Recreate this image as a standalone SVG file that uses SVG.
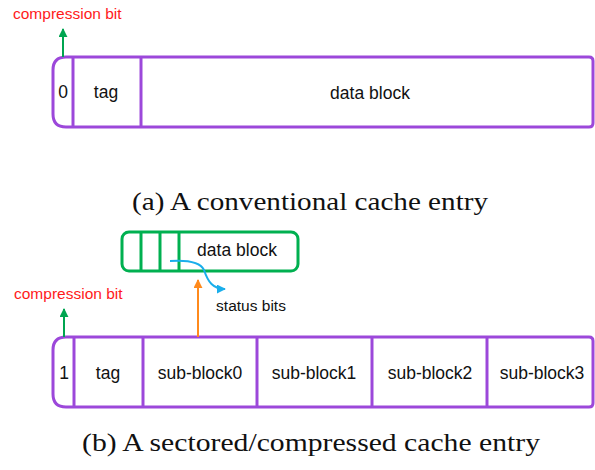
<svg xmlns="http://www.w3.org/2000/svg" width="595" height="470" viewBox="0 0 595 470">
<defs>
<marker id="ag" viewBox="0 0 10 10" refX="9" refY="5" markerWidth="4.5" markerHeight="4.5" orient="auto"><path d="M0,0 L10,5 L0,10 z" fill="#00A550"/></marker>
<marker id="ao" viewBox="0 0 10 10" refX="9" refY="5" markerWidth="4.5" markerHeight="4.5" orient="auto"><path d="M0,0 L10,5 L0,10 z" fill="#FF8A1C"/></marker>
<marker id="ab" viewBox="0 0 10 10" refX="9" refY="5" markerWidth="4.5" markerHeight="4.5" orient="auto"><path d="M0,0 L10,5 L0,10 z" fill="#1AAEEB"/></marker>
</defs>
<style>
.box{fill:none;stroke:#9C48DA;stroke-width:3}
.gbox{fill:none;stroke:#00B050;stroke-width:3}
.t{font-family:"Liberation Sans",Arial,sans-serif;font-size:17.5px;fill:#111;text-anchor:middle}
.red{font-family:"Liberation Sans",Arial,sans-serif;font-size:15.5px;fill:#FF1A1A}
.cap{font-family:"Liberation Serif","Times New Roman",serif;font-size:26px;fill:#111;text-anchor:middle}
</style>
<rect width="595" height="470" fill="#fff"/>

<g id="entry-a">
<path class="box" d="M66,57 H589 Q593,57 593,61 V123 Q593,127 589,127 H66 Q53,127 53,114 V70 Q53,57 66,57 Z"/>
<line class="box" x1="73" y1="57" x2="73" y2="127"/>
<line class="box" x1="141" y1="57" x2="141" y2="127"/>
<text class="t" x="63" y="98">0</text>
<text class="t" x="106" y="98">tag</text>
<text class="t" x="370" y="99">data block</text>
</g>
<text class="red" x="13" y="19">compression bit</text>
<text class="cap" x="310" y="210" textLength="356" lengthAdjust="spacingAndGlyphs">(a) A conventional cache entry</text>

<g id="green-block">
<rect class="gbox" x="122" y="232" width="176" height="39" rx="7"/>
<line class="gbox" x1="141" y1="232" x2="141" y2="271"/>
<line class="gbox" x1="160" y1="232" x2="160" y2="271"/>
<line class="gbox" x1="179" y1="232" x2="179" y2="271"/>
<text class="t" x="237" y="256">data block</text>
</g>
<text class="t" x="251" y="311" style="font-size:15.5px">status bits</text>

<g id="entry-b">
<path class="box" d="M66,337 H589 Q593,337 593,341 V403 Q593,407 589,407 H66 Q53,407 53,394 V350 Q53,337 66,337 Z"/>
<line class="box" x1="74" y1="337" x2="74" y2="407"/>
<line class="box" x1="143" y1="337" x2="143" y2="407"/>
<line class="box" x1="257" y1="337" x2="257" y2="407"/>
<line class="box" x1="372" y1="337" x2="372" y2="407"/>
<line class="box" x1="487" y1="337" x2="487" y2="407"/>
<text class="t" x="64" y="379">1</text>
<text class="t" x="108" y="379">tag</text>
<text class="t" x="200" y="379">sub-block0</text>
<text class="t" x="314" y="379">sub-block1</text>
<text class="t" x="430" y="379">sub-block2</text>
<text class="t" x="542" y="379">sub-block3</text>
</g>
<text class="red" x="14" y="299">compression bit</text>
<text class="cap" x="311" y="451" textLength="458" lengthAdjust="spacingAndGlyphs">(b) A sectored/compressed cache entry</text>

<g id="connectors">
<line x1="63" y1="57" x2="63" y2="29" stroke="#00A550" stroke-width="2" marker-end="url(#ag)"/>
<line x1="64" y1="337" x2="64" y2="309" stroke="#00A550" stroke-width="2" marker-end="url(#ag)"/>
<line x1="198" y1="337" x2="198" y2="280" stroke="#FF8A1C" stroke-width="2" marker-end="url(#ao)"/>
<path d="M170,261 C186,260 200,261 204,270 C208,282 213,289 225,289" fill="none" stroke="#1AAEEB" stroke-width="2" marker-end="url(#ab)"/>
</g>
</svg>
